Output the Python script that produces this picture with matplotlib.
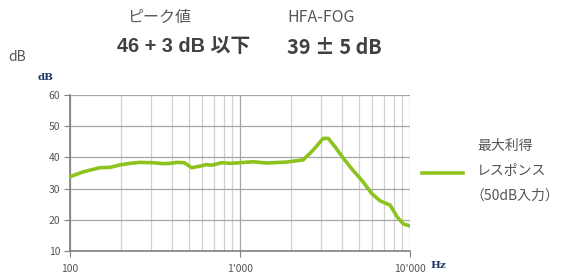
import matplotlib
matplotlib.use('Agg')
import matplotlib.pyplot as plt
from matplotlib.ticker import FixedLocator, LogLocator, NullFormatter
import numpy as np

plt.rcParams['font.family'] = ['Noto Sans CJK JP', 'DejaVu Sans']

# max gain response (50 dB input)
freq_hz = [100, 120, 150, 172, 197, 225, 258, 308, 352, 390, 424, 470, 520, 582, 636,
           680, 780, 872, 1000, 1193, 1432, 1875, 2352, 2700, 3088, 3307, 3620, 4060,
           4515, 5290, 5935, 6660, 7640, 8390, 9130, 10000]
gain_db = [33.8, 35.4, 36.7, 36.8, 37.6, 38.1, 38.4, 38.3, 38.0, 38.1, 38.4, 38.3, 36.7,
           37.2, 37.7, 37.5, 38.3, 38.1, 38.3, 38.6, 38.2, 38.5, 39.2, 42.4, 46.1, 46.1,
           43.4, 39.7, 36.5, 32.2, 28.5, 26.1, 24.7, 21.0, 18.7, 18.0]

y_ticks = [10, 20, 30, 40, 50, 60]
x_ticks = [100, 1000, 10000]
x_labels = ["100", "1'000", "10'000"]

GREEN = '#8dc21f'
GREY_TXT = '#555555'
LATIN_JP = ['Liberation Sans', 'Noto Sans CJK JP']

fig = plt.figure(figsize=(5.69, 2.75), dpi=100)
ax = fig.add_axes([70 / 569, 1 - 251 / 275, 340 / 569, 156 / 275])

ax.plot(freq_hz, gain_db, color=GREEN, lw=2.6, solid_capstyle='round', zorder=3)

ax.set_xscale('log')
ax.set_xlim(100, 10000)
ax.set_ylim(10, 60)
ax.xaxis.set_major_locator(FixedLocator(x_ticks))
ax.xaxis.set_minor_locator(LogLocator(base=10, subs=np.arange(2, 10)))
ax.xaxis.set_minor_formatter(NullFormatter())
ax.set_xticklabels(x_labels)
ax.set_yticks(y_ticks)

ax.grid(which='major', axis='both', color='#a6a6a6', lw=0.9)
ax.grid(which='minor', axis='x', color='#d0d0d0', lw=0.9)
ax.set_axisbelow(True)

for side in ['top', 'right']:
    ax.spines[side].set_visible(False)
for side in ['left', 'bottom']:
    ax.spines[side].set_color('#808080')
    ax.spines[side].set_linewidth(1.2)

ax.tick_params(axis='both', which='major', length=4, color='#808080', labelsize=7.5,
               labelcolor=GREY_TXT, pad=3)
ax.tick_params(axis='x', which='minor', length=0)
ax.tick_params(axis='x', which='major', pad=5)

# small axis unit labels
fig.text(38 / 569, 1 - 78 / 275, 'dB', fontsize=7.5, fontweight='bold',
         family='DejaVu Serif', color='#1f3864', va='center')
fig.text(430 / 569, 1 - 266 / 275, 'Hz', fontsize=7.5, fontweight='bold',
         family='DejaVu Serif', color='#1f3864', va='center')

# header texts
fig.text(8 / 569, 1 - 57 / 275, 'dB', fontsize=10, color=GREY_TXT, va='center')
fig.text(127 / 569, 1 - 17 / 275, 'ピーク値', fontsize=11.5, color='#595959', va='center')
fig.text(287 / 569, 1 - 17 / 275, 'HFA-FOG', fontsize=11.5, color='#595959', va='center')
fig.text(117 / 569, 1 - 47 / 275, '46 + 3 dB 以下', fontsize=14.3, fontweight='bold',
         family=LATIN_JP, color='#404040', va='center')
fig.text(287 / 569, 1 - 47 / 275, '39 ± 5 dB', fontsize=14.3, fontweight='bold',
         color='#404040', va='center')

# legend
fig.add_artist(plt.Line2D([422 / 569, 463 / 569], [1 - 173 / 275, 1 - 173 / 275],
                          color=GREEN, lw=2.6))
fig.text(477 / 569, 1 - 146 / 275, '最大利得', fontsize=10, color=GREY_TXT, va='center')
fig.text(477 / 569, 1 - 171 / 275, 'レスポンス', fontsize=10, color=GREY_TXT, va='center')
fig.text(470 / 569, 1 - 196 / 275, '（50dB入力）', fontsize=10, color=GREY_TXT, va='center')

fig.savefig('out.png', dpi=100)
